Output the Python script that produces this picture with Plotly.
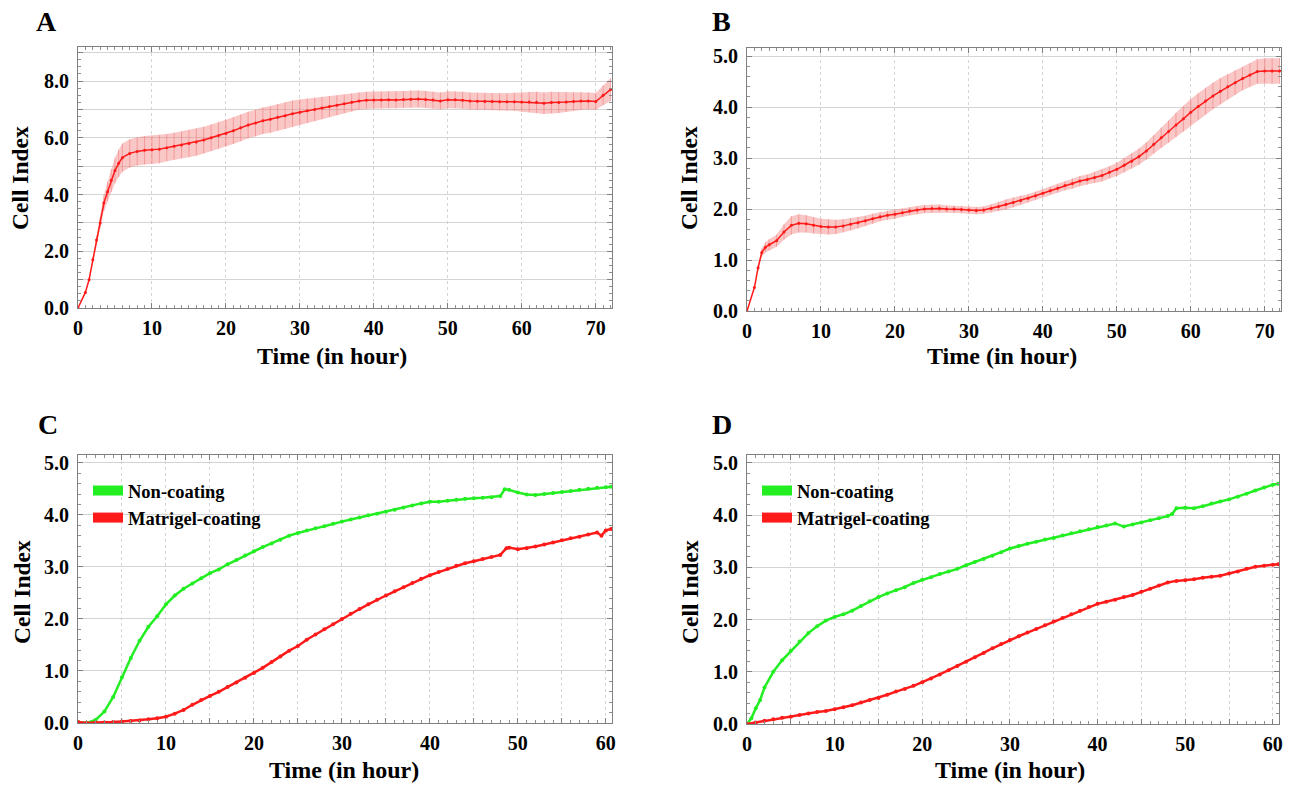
import plotly.graph_objects as go

# ---- data ----
# A: cell index (mean +/- error), 0-72 h
time_a = [0, 1, 1.5, 2, 2.5, 3, 3.5, 4, 4.5, 5, 5.5, 6] + list(range(7, 73))
mean_a = [0.0, 0.55, 1.0, 1.7, 2.4, 3.0, 3.7, 4.1, 4.5, 4.85, 5.1, 5.3,
          5.45, 5.52, 5.56, 5.58, 5.6, 5.65, 5.7, 5.75, 5.8, 5.85,
          5.92, 6.0, 6.08, 6.15, 6.25, 6.35, 6.45, 6.52, 6.6, 6.65,
          6.72, 6.78, 6.85, 6.9, 6.95, 7.0, 7.05, 7.1, 7.15, 7.2,
          7.25, 7.3, 7.32, 7.33, 7.33, 7.34, 7.33, 7.35, 7.36, 7.37,
          7.35, 7.33, 7.3, 7.34, 7.34, 7.32, 7.3, 7.29, 7.28, 7.28,
          7.27, 7.27, 7.27, 7.26, 7.26, 7.25, 7.22, 7.24, 7.24, 7.26,
          7.28, 7.3, 7.3, 7.28, 7.5, 7.7]
err_a = [0.0, 0.03, 0.06, 0.1, 0.15, 0.2, 0.28, 0.35, 0.4, 0.45, 0.48, 0.5,
         0.5, 0.5, 0.5, 0.5, 0.5, 0.48, 0.48, 0.48, 0.48, 0.48,
         0.47, 0.47, 0.47, 0.47, 0.47, 0.47, 0.47, 0.47, 0.47, 0.47,
         0.47, 0.47, 0.46, 0.45, 0.43, 0.41, 0.39, 0.37, 0.35, 0.33,
         0.32, 0.31, 0.3, 0.3, 0.3, 0.3, 0.3, 0.3, 0.3, 0.3,
         0.3, 0.3, 0.3, 0.3, 0.3, 0.3, 0.3, 0.3, 0.3, 0.3,
         0.3, 0.3, 0.32, 0.34, 0.36, 0.37, 0.38, 0.38, 0.37, 0.35,
         0.33, 0.32, 0.3, 0.3, 0.35, 0.4]

# B: cell index (mean +/- error), 0-72 h
time_b = [0, 1, 1.5, 2, 2.5, 3] + list(range(4, 73))
mean_b = [0.0, 0.46, 0.85, 1.15, 1.25, 1.3,
          1.38, 1.55, 1.68, 1.72, 1.71, 1.68, 1.66, 1.65, 1.65, 1.67,
          1.7, 1.73, 1.77, 1.81, 1.85, 1.88, 1.9, 1.93, 1.96, 1.98,
          2.0, 2.01, 2.01, 2.0, 2.0, 1.99, 1.98, 1.97, 1.98, 2.01,
          2.05, 2.09, 2.13, 2.17, 2.21, 2.26, 2.31, 2.36, 2.41, 2.46,
          2.5, 2.55, 2.58, 2.62, 2.66, 2.72, 2.78, 2.86, 2.94, 3.03,
          3.14, 3.27, 3.4, 3.52, 3.65, 3.77, 3.9, 4.01, 4.12, 4.22,
          4.31, 4.4, 4.48, 4.56, 4.63, 4.7, 4.71, 4.71, 4.71]
err_b = [0.0, 0.02, 0.05, 0.08, 0.1, 0.11,
         0.12, 0.15, 0.18, 0.18, 0.17, 0.16, 0.15, 0.15, 0.14, 0.13,
         0.12, 0.11, 0.1, 0.1, 0.09, 0.09, 0.09, 0.08, 0.08, 0.08,
         0.08, 0.08, 0.08, 0.07, 0.07, 0.07, 0.07, 0.07, 0.07, 0.08,
         0.09, 0.1, 0.1, 0.09, 0.08, 0.08, 0.08, 0.08, 0.09, 0.09,
         0.1, 0.1, 0.1, 0.11, 0.12, 0.12, 0.13, 0.14, 0.15, 0.16,
         0.17, 0.18, 0.2, 0.22, 0.24, 0.25, 0.26, 0.26, 0.26, 0.26,
         0.26, 0.25, 0.24, 0.23, 0.23, 0.24, 0.25, 0.25, 0.25]

# C: non-coating vs Matrigel-coating, 0-60 h
time_c_green = list(range(0, 49)) + [48.5] + list(range(49, 61)) + [60.6]
green_c = [0.02, 0.0, 0.06, 0.22, 0.5, 0.88, 1.25, 1.58, 1.85, 2.05,
           2.28, 2.45, 2.58, 2.68, 2.78, 2.88, 2.95, 3.05, 3.13, 3.22,
           3.3, 3.38, 3.45, 3.52, 3.6, 3.65, 3.7, 3.74, 3.78, 3.83,
           3.87, 3.91, 3.95, 3.99, 4.02, 4.06, 4.1, 4.14, 4.18, 4.22,
           4.25, 4.25, 4.27, 4.29, 4.31, 4.32, 4.33, 4.34, 4.36,
           4.49,
           4.48, 4.43, 4.39, 4.38, 4.4, 4.42, 4.44, 4.46, 4.48, 4.5, 4.52, 4.53,
           4.54]
time_c_red = list(range(0, 49)) + [48.7] + list(range(49, 60)) + [59.5, 60, 60.6]
red_c = [0.02, 0.0, 0.01, 0.01, 0.02, 0.03, 0.04, 0.05, 0.07, 0.09,
         0.12, 0.18, 0.25, 0.35, 0.44, 0.52, 0.6, 0.69, 0.78, 0.87,
         0.96, 1.06, 1.17, 1.28, 1.39, 1.48, 1.6, 1.7, 1.8, 1.9,
         2.0, 2.1, 2.19, 2.28, 2.37, 2.45, 2.53, 2.61, 2.69, 2.77,
         2.84, 2.9, 2.96, 3.02, 3.07, 3.11, 3.15, 3.19, 3.23,
         3.36,
         3.37, 3.34, 3.36, 3.39, 3.43, 3.47, 3.51, 3.55, 3.58, 3.62, 3.66,
         3.6, 3.7, 3.73]

# D: non-coating vs Matrigel-coating, 0-60 h
time_d_green = [0, 0.5, 1, 1.5, 2] + list(range(3, 49)) + [48.5] + list(range(49, 61)) + [60.6]
green_d = [0.0, 0.11, 0.3, 0.46, 0.7,
           1.0, 1.22, 1.4, 1.58, 1.74, 1.87, 1.98, 2.05, 2.1, 2.17,
           2.26, 2.35, 2.43, 2.5, 2.56, 2.62, 2.7, 2.76, 2.81, 2.87,
           2.92, 2.97, 3.04, 3.1, 3.16, 3.22, 3.29, 3.36, 3.41, 3.45,
           3.49, 3.53, 3.56, 3.61, 3.65, 3.69, 3.73, 3.77, 3.8, 3.84,
           3.78, 3.82, 3.86, 3.9, 3.94, 3.98,
           4.02,
           4.13, 4.14, 4.13, 4.17, 4.22, 4.26, 4.3, 4.35, 4.41, 4.47, 4.53, 4.58,
           4.6]
time_d_red = list(range(0, 61)) + [60.6]
red_d = [0.0, 0.03, 0.06, 0.09, 0.12, 0.14, 0.17, 0.2, 0.23, 0.25,
         0.28, 0.32, 0.36, 0.41, 0.46, 0.5, 0.56, 0.62, 0.67, 0.73,
         0.8, 0.87, 0.95, 1.03, 1.11, 1.19, 1.28, 1.36, 1.45, 1.53,
         1.61, 1.68, 1.75, 1.82, 1.89, 1.96, 2.03, 2.1, 2.17, 2.24,
         2.3, 2.34, 2.38, 2.43, 2.47, 2.53, 2.59, 2.65, 2.71, 2.74,
         2.75, 2.77, 2.8, 2.82, 2.84, 2.88, 2.92, 2.97, 3.01, 3.03, 3.05,
         3.06]

series_names = ["Non-coating", "Matrigel-coating"]

W, H = 1296, 785
FONT = "Times New Roman, Liberation Serif, serif"
RED = "#ff1a1a"
GREEN = "#22ee22"


def px_dom(a, b, total, flip=False):
    if flip:
        return [1 - b / total, 1 - a / total]
    return [a / total, b / total]


fig = go.Figure()


def add_band(t, m, e, xa, ya):
    upper = [v + d for v, d in zip(m, e)]
    lower = [v - d for v, d in zip(m, e)]
    fig.add_trace(go.Scatter(x=t, y=lower, mode="lines", line=dict(width=0),
                             hoverinfo="skip", showlegend=False, xaxis=xa, yaxis=ya))
    fig.add_trace(go.Scatter(x=t, y=upper, mode="lines", line=dict(width=0),
                             fill="tonexty", fillcolor="rgba(245,130,130,0.45)",
                             hoverinfo="skip", showlegend=False, xaxis=xa, yaxis=ya))
    fig.add_trace(go.Scatter(x=t, y=m, mode="lines+markers",
                             line=dict(color=RED, width=1.5),
                             marker=dict(color=RED, size=3),
                             error_y=dict(type="data", array=e, visible=True,
                                          color="rgba(240,110,110,0.5)",
                                          thickness=1, width=0),
                             showlegend=False, xaxis=xa, yaxis=ya))


add_band(time_a, mean_a, err_a, "x", "y")
add_band(time_b, mean_b, err_b, "x2", "y2")

for (tg, g, tr, r, xa, ya, lg) in [
        (time_c_green, green_c, time_c_red, red_c, "x3", "y3", "legend"),
        (time_d_green, green_d, time_d_red, red_d, "x4", "y4", "legend2")]:
    fig.add_trace(go.Scatter(x=tg, y=g, mode="lines+markers",
                             line=dict(color=GREEN, width=2.5),
                             marker=dict(color=GREEN, size=4),
                             showlegend=False, xaxis=xa, yaxis=ya))
    fig.add_trace(go.Scatter(x=tr, y=r, mode="lines+markers",
                             line=dict(color=RED, width=2.5),
                             marker=dict(color=RED, size=4),
                             showlegend=False, xaxis=xa, yaxis=ya))
    # legend swatches
    for name, col in zip(series_names, [GREEN, RED]):
        fig.add_trace(go.Scatter(x=[None], y=[None], mode="lines", name=name,
                                 line=dict(color=col, width=12),
                                 legend=lg, xaxis=xa, yaxis=ya))

tick_font = dict(family=FONT, size=20, color="black", weight="bold")
grid_col = "#d4d4d4"


def x_axis(dom, rng, step, label_step, anchor):
    vals = list(range(0, int(rng) + 1, step))
    return dict(domain=dom, range=[0, rng], anchor=anchor, automargin=False,
                tickmode="array", tickvals=vals,
                ticktext=[str(v) if v % label_step == 0 else "" for v in vals],
                showgrid=True, gridcolor=grid_col, griddash="dot", gridwidth=1,
                showline=True, linecolor="#808080", linewidth=1, mirror="ticks",
                ticks="inside", ticklen=5, tickcolor="#808080",
                minor=dict(dtick=1, ticks="inside", ticklen=3, tickcolor="#909090", showgrid=False),
                tickfont=tick_font, zeroline=False, ticklabelstandoff=2)


def y_axis(dom, rng, top, label_step, anchor, minor_step):
    vals = list(range(0, top + 1))
    return dict(domain=dom, range=[0, rng], anchor=anchor, automargin=False,
                tickmode="array", tickvals=vals,
                ticktext=[f"{v:.1f}" if v % label_step == 0 else "" for v in vals],
                showgrid=True, gridcolor=grid_col, gridwidth=1,
                showline=True, linecolor="#808080", linewidth=1, mirror="ticks",
                ticks="inside", ticklen=5, tickcolor="#808080",
                minor=dict(dtick=minor_step, ticks="inside", ticklen=3, tickcolor="#909090", showgrid=False),
                tickfont=tick_font, zeroline=False, ticklabelstandoff=4)


legend_style = dict(xanchor="left", yanchor="top", traceorder="normal",
                    bgcolor="rgba(0,0,0,0)", itemwidth=30, tracegroupgap=0,
                    font=dict(family=FONT, size=18.5, color="black", weight="bold"))

fig.update_layout(
    width=W, height=H,
    margin=dict(l=0, r=0, t=0, b=0, autoexpand=False),
    paper_bgcolor="white", plot_bgcolor="white",
    font=dict(family=FONT, color="black"),
    xaxis=x_axis(px_dom(78, 612, W), 72.2, 10, 10, "y"),
    yaxis=y_axis(px_dom(47, 308, H, True), 9.2, 9, 2, "x", 0.25),
    xaxis2=x_axis(px_dom(747, 1281, W), 72.2, 10, 10, "y2"),
    yaxis2=y_axis(px_dom(48, 311, H, True), 5.16, 5, 1, "x2", 0.2),
    xaxis3=x_axis(px_dom(78, 612, W), 60.7, 5, 10, "y3"),
    yaxis3=y_axis(px_dom(455, 723, H, True), 5.15, 5, 1, "x3", 0.2),
    xaxis4=x_axis(px_dom(747, 1279, W), 60.7, 5, 10, "y4"),
    yaxis4=y_axis(px_dom(455, 724, H, True), 5.15, 5, 1, "x4", 0.2),
    legend=dict(x=88 / W, y=1 - 472 / H, **legend_style),
    legend2=dict(x=757 / W, y=1 - 472 / H, **legend_style),
)

# panel letters and axis titles (pixel centres from the reference)
annots = []


def label(text, x, y, size, angle=0):
    annots.append(dict(text=f"<b>{text}</b>", x=x / W, y=1 - y / H, xref="paper", yref="paper",
                       xanchor="center", yanchor="middle", textangle=angle,
                       showarrow=False, font=dict(family=FONT, size=size, color="black")))


for letter, x, y in [("A", 46, 22), ("B", 721, 22), ("C", 48, 424), ("D", 722, 424)]:
    label(letter, x, y, 28)
for x, y in [(20, 178), (689, 178), (22, 592), (690, 592)]:
    label("Cell Index", x, y, 23.5, -90)
for x, y in [(332, 356), (1002, 356), (344, 770), (1010, 770)]:
    label("Time (in hour)", x, y, 24)
fig.update_layout(annotations=annots)

# drop the page's default body margin so the figure sits at the window origin
fig.write_html("out.html", config={"displayModeBar": False},
               post_script="document.body.style.margin='0';")
